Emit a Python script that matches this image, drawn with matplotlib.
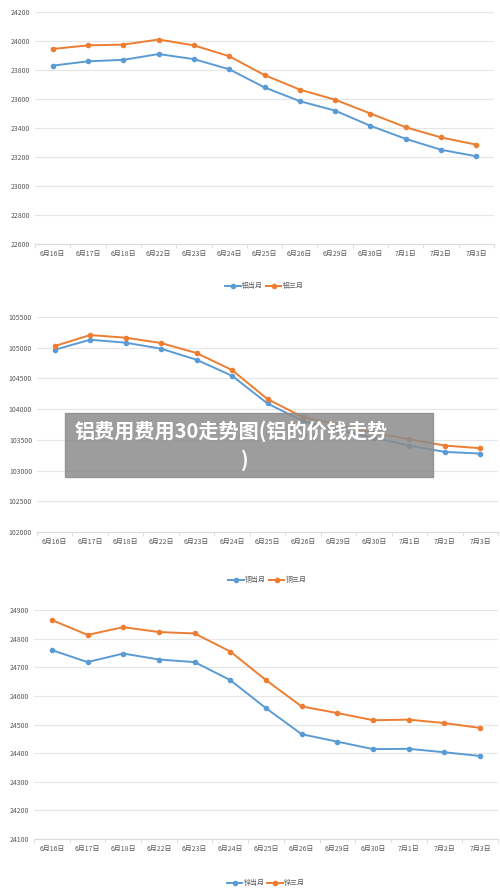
import matplotlib.pyplot as plt
import numpy as np

plt.rcParams['font.family'] = ['Noto Sans CJK SC', 'DejaVu Sans']

dates = ['6月16日', '6月17日', '6月18日', '6月22日', '6月23日', '6月24日', '6月25日',
         '6月26日', '6月29日', '6月30日', '7月1日', '7月2日', '7月3日']

al_cur = [23830, 23860, 23870, 23910, 23875, 23805, 23680, 23585, 23520, 23415, 23325, 23250, 23205]
al_3m = [23945, 23970, 23975, 24010, 23970, 23895, 23765, 23665, 23595, 23500, 23405, 23335, 23285]
cu_cur = [104967, 105130, 105082, 104984, 104804, 104543, 104092, 103804, 103657, 103532, 103407, 103304, 103277]
cu_3m = [105027, 105206, 105163, 105076, 104913, 104636, 104163, 103870, 103750, 103614, 103511, 103407, 103364]
zn_cur = [24760, 24718, 24748, 24727, 24718, 24655, 24557, 24466, 24440, 24414, 24415, 24403, 24390]
zn_3m = [24865, 24813, 24840, 24823, 24818, 24755, 24655, 24563, 24540, 24515, 24517, 24505, 24488]

BLUE = '#5b9bd5'
ORANGE = '#ed7d31'
W, H = 500, 892

fig = plt.figure(figsize=(5, 8.92), dpi=100)

# (left, top, right, bottom) in pixels, ylim, step, names, legend y
panels = [
    ((35, 12, 494, 244), (22600, 24200), 200, al_cur, al_3m, ('铝当月', '铝三月'), 286),
    ((37, 317, 498, 532), (102000, 105500), 500, cu_cur, cu_3m, ('铜当月', '铜三月'), 580),
    ((34, 610, 498, 839), (24100, 24900), 100, zn_cur, zn_3m, ('锌当月', '锌三月'), 883),
]

x = np.arange(len(dates))
for (l, t, r, b), ylim, step, cur, m3, names, ly in panels:
    ax = fig.add_axes([l / W, 1 - b / H, (r - l) / W, (b - t) / H])
    ax.plot(x, cur, color=BLUE, lw=1.4, marker='o', ms=3, label=names[0])
    ax.plot(x, m3, color=ORANGE, lw=1.4, marker='o', ms=3, label=names[1])
    ax.set_xlim(-0.5, len(dates) - 0.5)
    ax.set_ylim(*ylim)
    ax.set_yticks(np.arange(ylim[0], ylim[1] + 1, step))
    ax.set_xticks(x)
    ax.set_xticklabels(dates)
    ax.set_xticks(np.arange(-0.5, len(dates), 1), minor=True)
    ax.tick_params(axis='x', which='major', length=0, labelsize=5, colors='#595959', pad=4)
    ax.tick_params(axis='x', which='minor', length=3, color='#d9d9d9')
    ax.tick_params(axis='y', length=0, labelsize=5, colors='#595959')
    ax.grid(axis='y', color='#e6e6e6', lw=0.8)
    ax.set_axisbelow(True)
    for s in ['top', 'right', 'left']:
        ax.spines[s].set_visible(False)
    ax.spines['bottom'].set_color('#d9d9d9')
    ax.legend(loc='center', bbox_to_anchor=(0.5, 1 - (ly - t) / (b - t)), ncol=2,
              frameon=False, fontsize=5, handlelength=2.2, columnspacing=0.4,
              handletextpad=0.2, labelcolor='#595959')

# overlay banner
fig.patches.append(plt.Rectangle((65 / W, 1 - 477 / H), 368 / W, 64 / H,
                                 transform=fig.transFigure, color='#8c8c8c', alpha=0.85, zorder=10))
fig.text(75 / W, 1 - 431 / H, '铝费用费用30走势图(铝的价钱走势', color='white', fontsize=14.5,
         fontweight='bold', va='center', ha='left', zorder=11)
fig.text(245 / W, 1 - 460 / H, ')', color='white', fontsize=14.5,
         fontweight='bold', va='center', ha='center', zorder=11)

fig.savefig('out.png', dpi=100)
